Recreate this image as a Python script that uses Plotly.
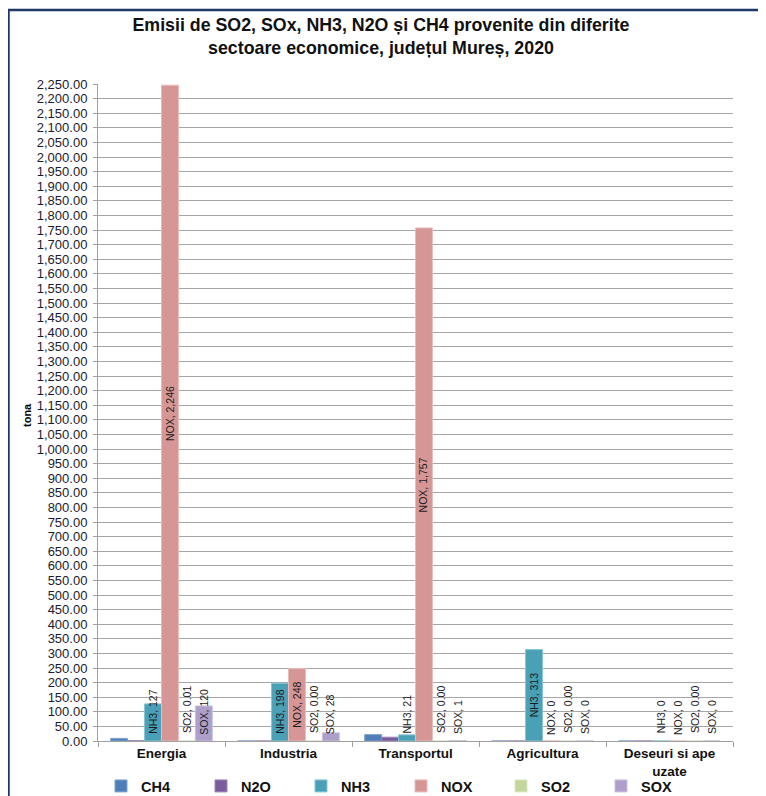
import plotly.graph_objects as go

# ---- data ----
categories = ["Energia", "Industria", "Transportul", "Agricultura", "Deseuri si ape<br>uzate"]
series_names = ["CH4", "N2O", "NH3", "NOX", "SO2", "SOX"]
ch4 = [9, 0, 22, 0, 0]
n2o = [1, 0, 13, 0, 0]
nh3 = [127, 198, 21, 313, 0]
nox = [2246, 248, 1757, 0, 0]
so2 = [0.01, 0.0, 0.0, 0.0, 0.0]
sox = [120, 28, 1, 0, 0]
labelled_series = ["NH3", "NOX", "SO2", "SOX"]
y_tick_values = list(range(0, 2251, 50))

values = [ch4, n2o, nh3, nox, so2, sox]
fill_colors = ["#4f7fb7", "#7a5c9c", "#4aa0b6", "#d69695", "#c3d69b", "#ad9fc9"]
edge_colors = ["#7fa3cf", "#9e86b8", "#86c4d4", "#e8bcbb", "#dbe8c2", "#cbc1de"]

FONT = "Arial, 'Liberation Sans', sans-serif"
OFF = 8  # page body offset
W, H = 766 - OFF, 796 - OFF
L_M, R_M, T_M, B_M = 98 - OFF, 33, 84 - OFF, 55
plot_w = W - L_M - R_M
plot_h = H - T_M - B_M
y_max = 2250
bargap = 0.2


def px_x(p):
    """screen pixel x -> paper x"""
    return (p - OFF - L_M) / plot_w


def px_y(p):
    """screen pixel y -> paper y"""
    return (H - B_M - (p - OFF)) / plot_h


fig = go.Figure()
for name, vals, fc, ec in zip(series_names, values, fill_colors, edge_colors):
    fig.add_trace(go.Bar(
        name=f"<b>{name}</b>", x=categories, y=vals,
        marker=dict(color=fc, line=dict(color=ec, width=1)),
    ))

# data labels (Excel-style, rotated)
ppu = plot_h / y_max
n = len(series_names)
slot = (1 - bargap) / n
annotations = []
for si, name in enumerate(series_names):
    if name not in labelled_series:
        continue
    for ci, v in enumerate(values[si]):
        if name == "SO2":
            txt = f"{name}, {v:.2f}"
        else:
            txt = f"{name}, {v:,.0f}"
        est_len = len(txt) * 5.3
        shift = max(v * ppu / 2, est_len / 2 + 8)
        annotations.append(dict(
            x=ci - (1 - bargap) / 2 + slot * (si + 0.5), y=0,
            xref="x", yref="y", text=txt, showarrow=False,
            textangle=-90, yanchor="middle", xanchor="center", yshift=shift,
            font=dict(family=FONT, size=10.5, color="#1a1a1a"),
        ))

# y-axis title
annotations.append(dict(
    x=px_x(19), y=px_y(415), xref="paper", yref="paper",
    text="<b>tona</b>", showarrow=False, textangle=-90,
    font=dict(family=FONT, size=11, color="#000000"),
))

shapes = [
    dict(type="line", xref="paper", yref="paper",
         x0=px_x(8.5), x1=px_x(8.5), y0=px_y(800), y1=px_y(10),
         line=dict(color="#1f3a68", width=2.5)),
    dict(type="line", xref="paper", yref="paper",
         x0=px_x(7.5), x1=px_x(770), y0=px_y(10), y1=px_y(10),
         line=dict(color="#1f3a68", width=2.5)),
]

fig.update_layout(
    width=W, height=H,
    margin=dict(l=L_M, r=R_M, t=T_M, b=B_M, pad=0, autoexpand=False),
    paper_bgcolor="white", plot_bgcolor="white",
    barmode="group", bargap=bargap, bargroupgap=0,
    title=dict(
        text="<b>Emisii de SO2, SOx, NH3, N2O și CH4 provenite din diferite<br>sectoare economice, județul Mureș, 2020</b>",
        x=(381 - OFF) / W, xanchor="center", y=0.971, yanchor="top",
        font=dict(family=FONT, size=17.8, color="#111111"),
    ),
    font=dict(family=FONT),
    xaxis=dict(
        type="category", tickson="boundaries", ticks="outside", ticklen=5,
        tickcolor="#a0a0a0", showline=True, linecolor="#a0a0a0", linewidth=1,
        showgrid=False, automargin=False,
        tickfont=dict(family=FONT, size=13.5, color="#111111"),
        tickprefix="<b>", ticksuffix="</b>",
    ),
    yaxis=dict(
        range=[0, y_max], tickvals=y_tick_values, tickformat=",.2f",
        ticks="outside", ticklen=4, tickcolor="#a0a0a0",
        showline=True, linecolor="#a0a0a0", linewidth=1,
        showgrid=True, gridcolor="#a6a6a6", gridwidth=1,
        zeroline=False, automargin=False, ticklabelstandoff=3,
        tickfont=dict(family=FONT, size=13, color="#1b1b2f"),
        tickprefix="<b>", ticksuffix="</b>",
    ),
    legend=dict(
        orientation="h", x=px_x(101), xanchor="left",
        y=px_y(786), yanchor="middle", bgcolor="rgba(0,0,0,0)",
        entrywidth=55, entrywidthmode="pixels",
        font=dict(family=FONT, size=14.5, color="#111111"),
        itemclick=False, traceorder="normal",
    ),
    annotations=annotations,
    shapes=shapes,
)

fig.write_html("out.html")
